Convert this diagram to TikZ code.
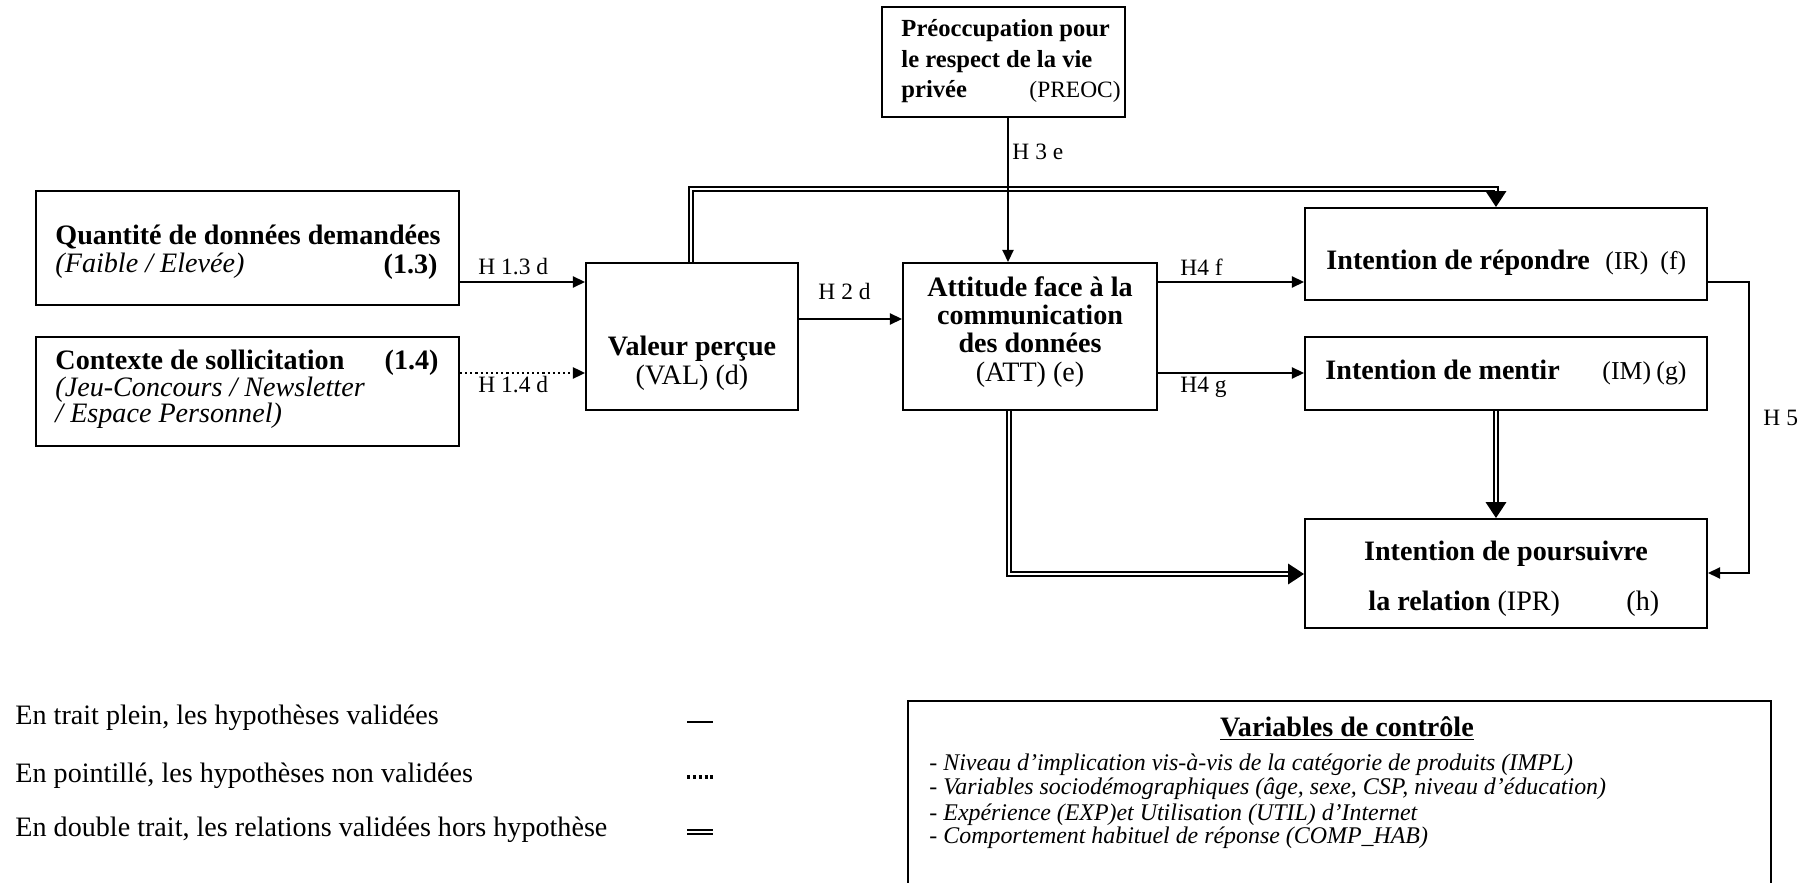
\documentclass[tikz,border=0pt]{standalone}
\usepackage{fontspec}
\setmainfont{Liberation Serif}
\usetikzlibrary{arrows.meta,fit,calc}
\begin{document}
\begin{tikzpicture}[x=0.015cm,y=-0.015cm,
  box/.style={draw, line width=0.85pt, inner sep=0pt},
  txt/.style={anchor=base west, inner sep=0pt, font=\fontsize{12}{14}\selectfont},
  ctxt/.style={anchor=base, inner sep=0pt, font=\fontsize{12}{14}\selectfont},
  rtxt/.style={anchor=base east, inner sep=0pt, font=\fontsize{12}{14}\selectfont},
  lab/.style={anchor=base west, inner sep=0pt, font=\fontsize{10}{12}\selectfont},
  itm/.style={anchor=base west, inner sep=0pt, font=\fontsize{10.2}{12}\selectfont\itshape},
  conn/.style={line width=0.75pt, -{Triangle[length=5.2pt,width=4.8pt]}},
  dotconn/.style={line width=0.9pt, dash pattern=on 0.9pt off 1.3pt, -{Triangle[length=5.2pt,width=4.8pt]}},
  dbl/.style={double, double distance=1.1pt, line width=0.6pt},
  dbltip/.style={line width=0.6pt, -{Triangle[length=6.8pt,width=8.8pt]}}
]
\useasboundingbox (0,0) rectangle (1803,883);

% boxes
\node[box, fit={(882,7)(1125,117)}] (PR) {};
\node[box, fit={(36,191)(459,305)}] (Q) {};
\node[box, fit={(36,337)(459,446)}] (C) {};
\node[box, fit={(586,263)(798,410)}] (V) {};
\node[box, fit={(903,263)(1157,410)}] (A) {};
\node[box, fit={(1305,208)(1707,300)}] (IR) {};
\node[box, fit={(1305,337)(1707,410)}] (IM) {};
\node[box, fit={(1305,519)(1707,628)}] (IP) {};
\node[box, fit={(908,701)(1771,960)}] (CV) {};

% texts in boxes
\node[txt, font=\fontsize{10.5}{12}\selectfont] (pr1) at (901,37) {\textbf{Préoccupation pour}};
\node[txt, font=\fontsize{10.5}{12}\selectfont] (pr2) at (901,68) {\textbf{le respect de la vie}};
\node[txt, font=\fontsize{10.5}{12}\selectfont] (pr3) at (901,98) {\textbf{privée}};
\node[txt, font=\fontsize{10}{12}\selectfont] (pr4) at (1029,98) {(PREOC)};

\node[txt] (q1) at (55,245) {\textbf{Quantité de données demandées}};
\node[txt] (q2) at (55,273) {\textit{(Faible / Elevée)}};
\node[rtxt] (q3) at (438,274) {\textbf{(1.3)}};

\node[txt] (c1) at (55,370) {\textbf{Contexte de sollicitation}};
\node[rtxt] (c2) at (439,370) {\textbf{(1.4)}};
\node[txt] (c3) at (55,397) {\textit{(Jeu-Concours / Newsletter}};
\node[txt] (c4) at (55,423) {\textit{/ Espace Personnel)}};

\node[ctxt] (v1) at (692,356) {\textbf{Valeur perçue}};
\node[ctxt] (v2) at (692,385) {(VAL) (d)};

\node[ctxt] (a1) at (1030,297) {\textbf{Attitude face à la}};
\node[ctxt] (a2) at (1030,325) {\textbf{communication}};
\node[ctxt] (a3) at (1030,353) {\textbf{des données}};
\node[ctxt] (a4) at (1030,382) {(ATT) (e)};

\node[txt] (ir1) at (1326,270) {\textbf{Intention de répondre}};
\node[txt, font=\fontsize{11}{13}\selectfont] (ir2) at (1605,270) {(IR)};
\node[txt, font=\fontsize{11}{13}\selectfont] (ir3) at (1660,270) {(f)};

\node[txt] (im1) at (1325,380) {\textbf{Intention de mentir}};
\node[txt, font=\fontsize{11}{13}\selectfont] (im2) at (1602,380) {(IM)};
\node[txt, font=\fontsize{11}{13}\selectfont] (im3) at (1656,380) {(g)};

\node[ctxt] (ip1) at (1506,561) {\textbf{Intention de poursuivre}};
\node[txt] (ip2) at (1368,611) {\textbf{la relation} (IPR)};
\node[txt] (ip3) at (1626,611) {(h)};

% connectors
\draw[conn] (Q.east |- 0,282) -- (V.west |- 0,282);
\draw[dotconn] (C.east |- 0,373) -- (V.west |- 0,373);
\draw[conn] (V.east |- 0,319) -- (A.west |- 0,319);
\draw[conn] (A.east |- 0,282) -- (IR.west |- 0,282);
\draw[conn] (A.east |- 0,373) -- (IM.west |- 0,373);
\draw[conn] (IR.east |- 0,282) -- (1749,282) -- (1749,573) -- (IP.east |- 0,573);

% double lines
\coordinate (d1) at ($(IR.north -| 1496,0)+(0,-16)$);
\draw[dbl] (V.north -| 691,0) -- (691,189) -- (1496,189) -- (d1);
\draw[dbltip] (d1) -- (IR.north -| 1496,0);

\coordinate (d2) at ($(IP.north -| 1496,0)+(0,-16)$);
\draw[dbl] (IM.south -| 1496,0) -- (d2);
\draw[dbltip] (d2) -- (IP.north -| 1496,0);

\coordinate (d3) at ($(IP.west |- 0,574)+(-16,0)$);
\draw[dbl] (A.south -| 1009,0) -- (1009,574) -- (d3);
\draw[dbltip] (d3) -- (IP.west |- 0,574);

\draw[conn] (PR.south -| 1008,0) -- (A.north -| 1008,0);

% connector labels
\node[lab] (h13) at (478,275) {H 1.3 d};
\node[lab] (h14) at (478,393) {H 1.4 d};
\node[lab] (h2) at (818,300) {H 2 d};
\node[lab] (h3) at (1012,160) {H 3 e};
\node[lab] (h4f) at (1180,276) {H4 f};
\node[lab] (h4g) at (1180,393) {H4 g};
\node[lab] (h5) at (1763,426) {H 5};

% legend
\node[txt] (lg1) at (15,725) {En trait plein, les hypothèses validées};
\node[txt] (lg2) at (15,782) {En pointillé, les hypothèses non validées};
\node[txt] (lg3) at (15,836) {En double trait, les relations validées hors hypothèse};
\coordinate (s1a) at (687,722); \coordinate (s1b) at (713,722);
\coordinate (s2a) at (687,777); \coordinate (s2b) at (714,777);
\coordinate (s3a) at (687,832); \coordinate (s3b) at (713,832);
\draw[line width=0.75pt] (s1a) -- (s1b);
\draw[line width=1.4pt, dash pattern=on 1.3pt off 1.2pt] (s2a) -- (s2b);
\draw[dbl] (s3a) -- (s3b);

% control variables
\node[ctxt] (cvt) at (1347,736) {\textbf{\underline{Variables de contrôle}}};
\node[itm] (cv1) at (929,770) {- Niveau d’implication vis-à-vis de la catégorie de produits (IMPL)};
\node[itm] (cv2) at (929,795) {- Variables sociodémographiques (âge, sexe, CSP, niveau d’éducation)};
\node[itm] (cv3) at (929,820) {- Expérience (EXP)et Utilisation (UTIL) d’Internet};
\node[itm] (cv4) at (929,844) {- Comportement habituel de réponse (COMP\_HAB)};
\end{tikzpicture}
\end{document}
